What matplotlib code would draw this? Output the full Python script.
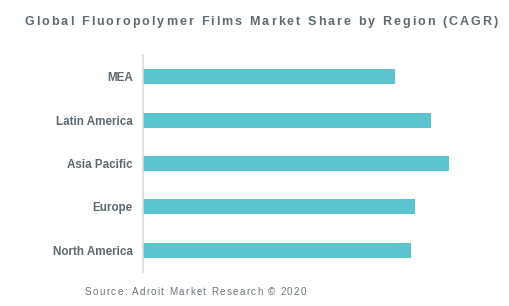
import matplotlib
matplotlib.use("Agg")
import matplotlib.pyplot as plt
from matplotlib.font_manager import FontProperties

categories = ["North America", "Europe", "Asia Pacific", "Latin America", "MEA"]
values = [6.7, 6.8, 7.65, 7.2, 6.3]
title = "Global Fluoropolymer Films Market Share by Region (CAGR)"
source = "Source: Adroit Market Research \u00a9 2020"

W, H = 509, 306
fig = plt.figure(figsize=(W / 100, H / 100), dpi=100)
ax = fig.add_axes([143 / W, 1 - 272 / H, (500 - 143) / W, (272 - 55) / H])

bar_color = "#5cc4ce"
text_color = "#5d6a72"

ax.barh(range(len(categories)), values, height=0.35, color=bar_color)
ax.set_xlim(0, 8.925)
ax.set_ylim(-0.5, len(categories) - 0.5)
ax.set_yticks(range(len(categories)))
ax.set_yticklabels(categories, fontfamily="Liberation Sans", fontweight="bold",
                   fontsize=8.4, color=text_color)
ax.tick_params(axis="y", length=0, pad=7.3)
ax.set_xticks([])
for s in ["top", "right", "bottom"]:
    ax.spines[s].set_visible(False)
ax.spines["left"].set_color("#d9d9d9")
ax.spines["left"].set_linewidth(1.2)

renderer = fig.canvas.get_renderer()


def spaced_text(s, x0, y, fp, spacing, color, center=False):
    def width(t):
        if not t:
            return 0.0
        w, h, d = renderer.get_text_width_height_descent(t, fp, ismath=False)
        return w
    total = width(s) + spacing * (len(s) - 1)
    if center:
        x0 = x0 - total / 2
    for i, ch in enumerate(s):
        xi = x0 + width(s[:i]) + spacing * i
        fig.text(xi / W, 1 - y / H, ch, fontproperties=fp, color=color,
                 va="center", ha="left")


fp_title = FontProperties(family="Liberation Sans", weight="bold", size=9.0)
spaced_text(title, 261, 22, fp_title, 2.05, text_color, center=True)

fp_src = FontProperties(family="Liberation Sans", size=7.1)
spaced_text(source, 85, 292, fp_src, 1.3, "#6b747a")

fig.savefig("out.png", dpi=100)
